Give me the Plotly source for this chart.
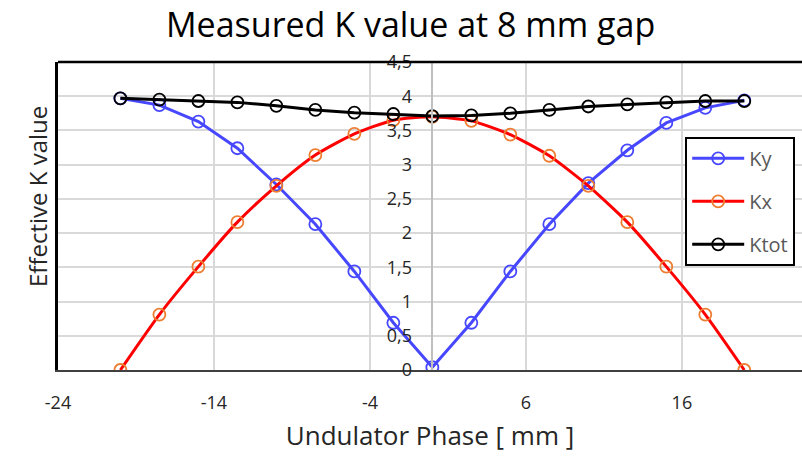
import plotly.graph_objects as go

phase = [-20, -17.5, -15, -12.5, -10, -7.5, -5, -2.5, 0, 2.5, 5, 7.5, 10, 12.5, 15, 17.5, 20]
ky = [3.97, 3.87, 3.63, 3.24, 2.71, 2.13, 1.44, 0.69, 0.04, 0.69, 1.44, 2.13, 2.73, 3.21, 3.61, 3.83, 3.94]
kx = [0.0, 0.81, 1.51, 2.16, 2.69, 3.14, 3.45, 3.65, 3.70, 3.64, 3.44, 3.13, 2.69, 2.16, 1.51, 0.81, 0.0]
ktot = [3.97, 3.95, 3.93, 3.91, 3.86, 3.80, 3.76, 3.74, 3.71, 3.72, 3.75, 3.80, 3.85, 3.88, 3.91, 3.93, 3.93]

x_ticks = [-24, -14, -4, 6, 16]
y_ticks = [0, 0.5, 1, 1.5, 2, 2.5, 3, 3.5, 4, 4.5]
y_ticktext = ["0", "0,5", "1", "1,5", "2", "2,5", "3", "3,5", "4", "4,5"]

X_MIN, X_MAX = -24, 23.7
FONT = "Open Sans"

fig = go.Figure()
series = [
    ("Ky", ky, "#4747ff", "#4747ff", "linear"),
    ("Kx", kx, "#ff0000", "#ed7d31", "spline"),
    ("Ktot", ktot, "#000000", "#000000", "linear"),
]
for name, vals, lc, mc, shape in series:
    fig.add_trace(go.Scatter(
        x=phase, y=vals, name=name, mode="lines+markers",
        line=dict(color=lc, width=3, shape=shape, smoothing=0.6),
        marker=dict(symbol="circle-open", size=12, color=mc, line=dict(width=1.8, color=mc)),
        legendgroup=name,
    ))

# invisible trace to host the secondary y axis at x=0
fig.add_trace(go.Scatter(x=[0], y=[0], yaxis="y2", showlegend=False,
                         mode="markers", marker=dict(opacity=0), hoverinfo="skip"))

fig.update_layout(
    width=802, height=456,
    margin=dict(l=58, r=0, t=62, b=86),
    paper_bgcolor="white", plot_bgcolor="white",
    font=dict(family=FONT, color="#262626"),
    title=dict(text="Measured K value at 8 mm gap", x=0.512, xanchor="center",
               y=1 - 25 / 456, yanchor="middle",
               font=dict(family=FONT, size=34, color="#000000")),
    xaxis=dict(range=[X_MIN, X_MAX], tickvals=x_ticks, ticktext=[str(v) for v in x_ticks],
               showgrid=True, gridcolor="#d9d9d9", gridwidth=1.5, zeroline=False,
               showline=True, linecolor="#404040", linewidth=2, ticks="",
               ticklabelstandoff=15,
               tickfont=dict(size=18, color="#262626"),
               title=dict(text="Undulator Phase [ mm ]", standoff=14,
                          font=dict(size=26, color="#262626"))),
    yaxis=dict(range=[0, 4.5], tickvals=y_ticks, showticklabels=False,
               showgrid=True, gridcolor="#d9d9d9", gridwidth=1.5, zeroline=False,
               showline=True, linecolor="#000000", linewidth=3, ticks=""),
    yaxis2=dict(range=[0, 4.5], overlaying="y", anchor="free",
                position=(0 - X_MIN) / (X_MAX - X_MIN), side="left",
                tickvals=y_ticks, ticktext=y_ticktext, showgrid=False, zeroline=False,
                showline=True, linecolor="#bfbfbf", linewidth=1.5, ticks="",
                ticklabelstandoff=16,
                tickfont=dict(size=18, color="#262626")),
    legend=dict(x=0.843, y=0.757, xanchor="left", yanchor="top",
                bordercolor="#000000", borderwidth=2, bgcolor="white",
                font=dict(size=20, color="#595959"), tracegroupgap=14,
                itemwidth=52),
    showlegend=True,
    annotations=[dict(text="Effective K value", xref="paper", yref="paper",
                      x=(37 - 58) / 744, y=(370 - 197) / 308, xanchor="center",
                      yanchor="middle", textangle=-90, showarrow=False,
                      font=dict(family=FONT, size=24, color="#262626"))],
    shapes=[dict(type="line", xref="paper", yref="paper", x0=0, x1=1, y0=1, y1=1,
                 line=dict(color="#000000", width=2.5), layer="above")],
)

fig.write_html("out.html")
